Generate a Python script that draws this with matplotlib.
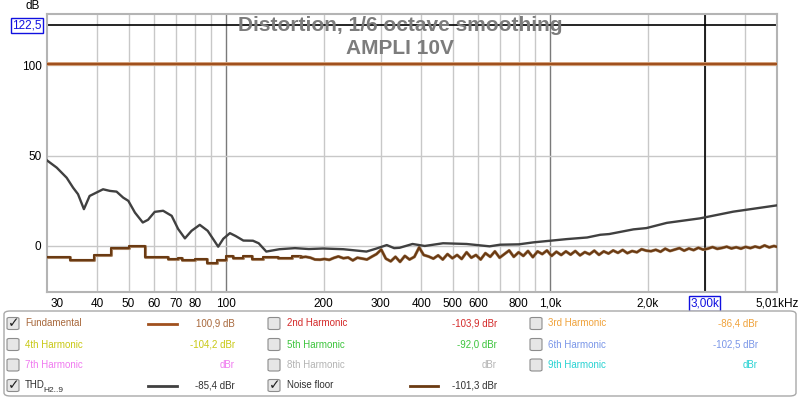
import matplotlib
matplotlib.use("Agg")
from matplotlib import pyplot as plt
from matplotlib.patches import FancyBboxPatch
import matplotlib.patheffects as pe

plt.rcParams['font.family'] = ['Liberation Sans', 'DejaVu Sans']

# ---- data ----
fund_freq = [28, 100, 1000, 5010]
fund_db = [100.9, 100.9, 100.9, 100.9]

thd_freq = [28, 30, 32.2, 33.7, 34.9, 36.4, 37.9, 39.8, 41.7, 43.8, 45.9, 48.1, 49.9,
            52.3, 55.3, 57.4, 60.2, 63.9, 67.9, 71.1, 74.6, 78.2, 82.9, 87.7, 94.5,
            98, 102.7, 107, 113, 121, 126, 133, 146, 163, 180, 199, 230, 271, 290,
            313, 330, 343, 376, 410, 467, 552, 650, 700, 800, 888, 1000, 1124, 1300,
            1427, 1520, 1807, 1980, 2290, 2900, 3670, 5010]
thd_db = [47.4, 43.4, 37.8, 32.3, 28.7, 20.4, 27.7, 29.6, 31.4, 30.5, 30.1, 26.8, 25.0,
          18.5, 13.0, 14.5, 18.9, 19.5, 16.7, 9.4, 4.2, 8.4, 11.7, 8.4, -0.4,
          4.0, 7.1, 5.5, 3.0, 2.9, 1.5, -3.1, -1.8, -1.2, -1.7, -1.4, -1.8, -3.1, -1.5,
          0.5, -1.2, -1.0, 1.1, 0.0, 1.5, 1.1, -0.2, 0.7, 0.9, 2.0, 2.9, 3.8, 4.7,
          6.2, 6.6, 9.2, 9.9, 12.8, 15.3, 19.0, 22.5]

# low end of the noise floor is stepped (band values), upper part is a jagged line
nf_step_freq = [28, 33, 39, 44, 50, 56, 66, 71, 73, 80, 87, 94, 100, 105, 113, 120, 130,
                145, 160, 170]
nf_step_db = [-6.3, -7.7, -4.8, -1.3, 0.2, -6.3, -7.3, -6.7, -7.7, -7.0, -9.2, -7.7, -5.5,
              -6.7, -5.3, -7.0, -5.9, -6.8, -5.7, -6.3]
nf_freq = [170, 176, 182, 188, 195, 201, 208, 215, 222, 230, 238, 246, 254, 263, 272, 281,
           291, 301, 311, 322, 333, 344, 356, 368, 381, 394, 407, 421, 436, 451, 466, 482,
           499, 516, 533, 552, 571, 590, 610, 631, 653, 675, 698, 722, 747, 772, 799, 826,
           854, 884, 914, 945, 977, 1010, 1045, 1081, 1118, 1156, 1195, 1236, 1279, 1322,
           1368, 1414, 1463, 1513, 1564, 1618, 1673, 1730, 1790, 1851, 1914, 1980, 2047,
           2117, 2190, 2264, 2342, 2422, 2505, 2590, 2679, 2770, 2865, 2963, 3064, 3169,
           3277, 3389, 3505, 3625, 3749, 3877, 4009, 4146, 4288, 4434, 4586, 4742, 4904, 5010]
nf_db = [-6.3, -6.0, -6.5, -7.5, -7.6, -7.2, -7.7, -6.6, -5.8, -6.8, -6.4, -8.0, -6.5, -7.0,
         -7.5, -6.0, -4.5, -2.0, -7.0, -8.5, -6.0, -8.8, -5.5, -7.5, -6.0, -0.8, -5.0, -5.8,
         -7.0, -5.2, -7.5, -4.5, -6.8, -5.0, -7.2, -3.5, -6.5, -5.0, -7.5, -4.0, -6.0, -3.0,
         -6.5, -4.5, -2.5, -6.0, -3.5, -5.5, -2.8, -6.2, -3.0, -4.5, -2.5, -5.5, -3.2, -5.0,
         -3.0, -4.8, -2.8, -5.2, -3.4, -4.6, -2.6, -4.9, -3.0, -4.2, -2.5, -3.8, -2.2, -4.0,
         -2.8, -3.5, -1.8, -2.6, -2.9, -2.1, -3.2, -1.5, -2.8, -2.0, -1.2, -2.6, -1.4, -2.3,
         -1.0, -2.0, -1.5, -0.6, -1.6, -1.1, -0.4, -1.4, -0.7, -1.5, -0.5, -1.2, -0.3, -1.0,
         0.3, -0.8, 0.0, -0.5]

xticks = [30, 40, 50, 60, 70, 80, 100, 200, 300, 400, 500, 600, 800, 1000, 2000, 3000, 5010]
xticklabels = ['30', '40', '50', '60', '70', '80', '100', '200', '300', '400', '500', '600',
               '800', '1,0k', '2,0k', '3,00k', '5,01kHz']
minor_grid = [40, 50, 60, 70, 80, 90, 200, 300, 400, 500, 600, 700, 800, 900,
              2000, 3000, 4000, 5000]
major_grid = [100, 1000]
yticks = [0, 50, 100]
cursor_db = 122.5
cursor_freq = 3000

# legend rows: label, subscript, text colour, value text, checked, line sample colour
legend_items = [
    ['Fundamental', '', '#a8683c', '100,9 dB', True, '#a0501e'],
    ['2nd Harmonic', '', '#d42a2a', '-103,9 dBr', False, None],
    ['3rd Harmonic', '', '#f0a23a', '-86,4 dBr', False, None],
    ['4th Harmonic', '', '#c8c814', '-104,2 dBr', False, None],
    ['5th Harmonic', '', '#3cc43c', '-92,0 dBr', False, None],
    ['6th Harmonic', '', '#7a96e8', '-102,5 dBr', False, None],
    ['7th Harmonic', '', '#f07af0', 'dBr', False, None],
    ['8th Harmonic', '', '#b4b4b4', 'dBr', False, None],
    ['9th Harmonic', '', '#28d2d2', 'dBr', False, None],
    ['THD', 'H2..9', '#303030', '-85,4 dBr', True, '#404040'],
    ['Noise floor', '', '#303030', '-101,3 dBr', True, '#6a3a12'],
]

W, H = 800, 398
fig = plt.figure(figsize=(W / 100, H / 100), dpi=100)
fig.patch.set_facecolor('white')


def fx(x):
    return x / W


def fy(y):
    return 1 - y / H


ax = fig.add_axes([fx(47), fy(292), fx(777 - 47), (292 - 14) / H])
ax.set_xscale('log')
ax.set_xlim(28, 5010)
ax.set_ylim(-25.5, 128.5)

for f in minor_grid:
    ax.axvline(f, color='#c8c8c8', lw=1, zorder=1)
for f in major_grid:
    ax.axvline(f, color='#7a7a7a', lw=1, zorder=1)
for v in yticks:
    ax.axhline(v, color='#c8c8c8', lw=1, zorder=1)

# cursor lines
ax.axhline(cursor_db, color='black', lw=1.2, zorder=2)
ax.axvline(cursor_freq, color='black', lw=1.2, zorder=2)

ax.plot(fund_freq, fund_db, color='#a0501e', lw=1.7, zorder=4,
        path_effects=[pe.Stroke(linewidth=2.8, foreground='#dcb08c'), pe.Normal()])
nf_fx = [pe.Stroke(linewidth=2.2, foreground='#a88464'), pe.Normal()]
ax.plot(nf_step_freq, nf_step_db, color='#6a3a12', lw=1.5, drawstyle='steps-post',
        zorder=4, path_effects=nf_fx)
ax.plot(nf_freq, nf_db, color='#6a3a12', lw=1.5, zorder=4, path_effects=nf_fx)
ax.plot(thd_freq, thd_db, color='#404040', lw=1.7, zorder=5)

ax.set_xticks(xticks)
ax.set_xticklabels(xticklabels)
ax.xaxis.set_minor_locator(matplotlib.ticker.NullLocator())
ax.set_yticks(yticks)
ax.set_yticklabels([str(v) for v in yticks])
ax.tick_params(length=0, labelsize=8.5, pad=4)
for lab in ax.get_xticklabels():
    if lab.get_text() == '3,00k':
        lab.set_color('#1010e0')
        lab.set_bbox(dict(facecolor='white', edgecolor='#1010e0', pad=0.8, lw=1))

for s in ax.spines.values():
    s.set_color('#b4b4b4')
    s.set_linewidth(1.5)

fig.text(fx(42), fy(25.5), '122,5', color='#1010e0', fontsize=8.5, ha='right', va='center',
         bbox=dict(facecolor='white', edgecolor='#1010e0', pad=0.8, lw=1))
fig.text(fx(33), fy(6), 'dB', fontsize=8.5, ha='center', va='center')

fig.text(0.5, fy(25.5), 'Distortion, 1/6 octave smoothing', ha='center', va='center',
         fontsize=15, fontweight='bold', color='#7c7c7c', zorder=10)
fig.text(0.5, fy(48), 'AMPLI 10V', ha='center', va='center', fontsize=15,
         fontweight='bold', color='#7c7c7c', zorder=10)

# ---- legend panel ----
panel = FancyBboxPatch((fx(4), fy(396)), fx(792), (396 - 311) / H,
                       boxstyle='round,pad=0,rounding_size=0.008', transform=fig.transFigure,
                       facecolor='white', edgecolor='#a8a8a8', lw=1)
fig.patches.append(panel)

col_box = [7, 268, 530]
col_label = [25, 287, 548]
col_value = [235, 497, 758]
col_line = [(148, 177), (410, 438), (672, 700)]
row_y = [323.5, 344.5, 365, 385.5]

for i, (label, sub, color, value, checked, lcolor) in enumerate(legend_items):
    r, c = divmod(i, 3)
    if i == 10:
        r, c = 3, 1
    y = row_y[r]
    box = FancyBboxPatch((fx(col_box[c]), fy(y + 6)), fx(12), 12 / H,
                         boxstyle='round,pad=0,rounding_size=0.003', transform=fig.transFigure,
                         facecolor='#e6e6e6', edgecolor='#8c8c8c', lw=0.8)
    fig.patches.append(box)
    if checked:
        fig.text(fx(col_box[c] + 6.5), fy(y - 0.5), '✓', fontsize=10, fontweight='bold',
                 ha='center', va='center', color='#202020', family='DejaVu Sans')
    fig.text(fx(col_label[c]), fy(y - 1 if sub else y), label, color=color, fontsize=7,
             ha='left', va='center')
    if sub:
        fig.text(fx(col_label[c] + 18), fy(y + 5), sub, color=color, fontsize=6,
                 ha='left', va='center')
    fig.text(fx(col_value[c]), fy(y), value, color=color, fontsize=7, ha='right', va='center')
    if lcolor is not None:
        x0, x1 = col_line[c]
        fig.lines.append(plt.Line2D([fx(x0), fx(x1)], [fy(y), fy(y)], color=lcolor, lw=2,
                                    transform=fig.transFigure))

fig.savefig('out.png', dpi=100)
